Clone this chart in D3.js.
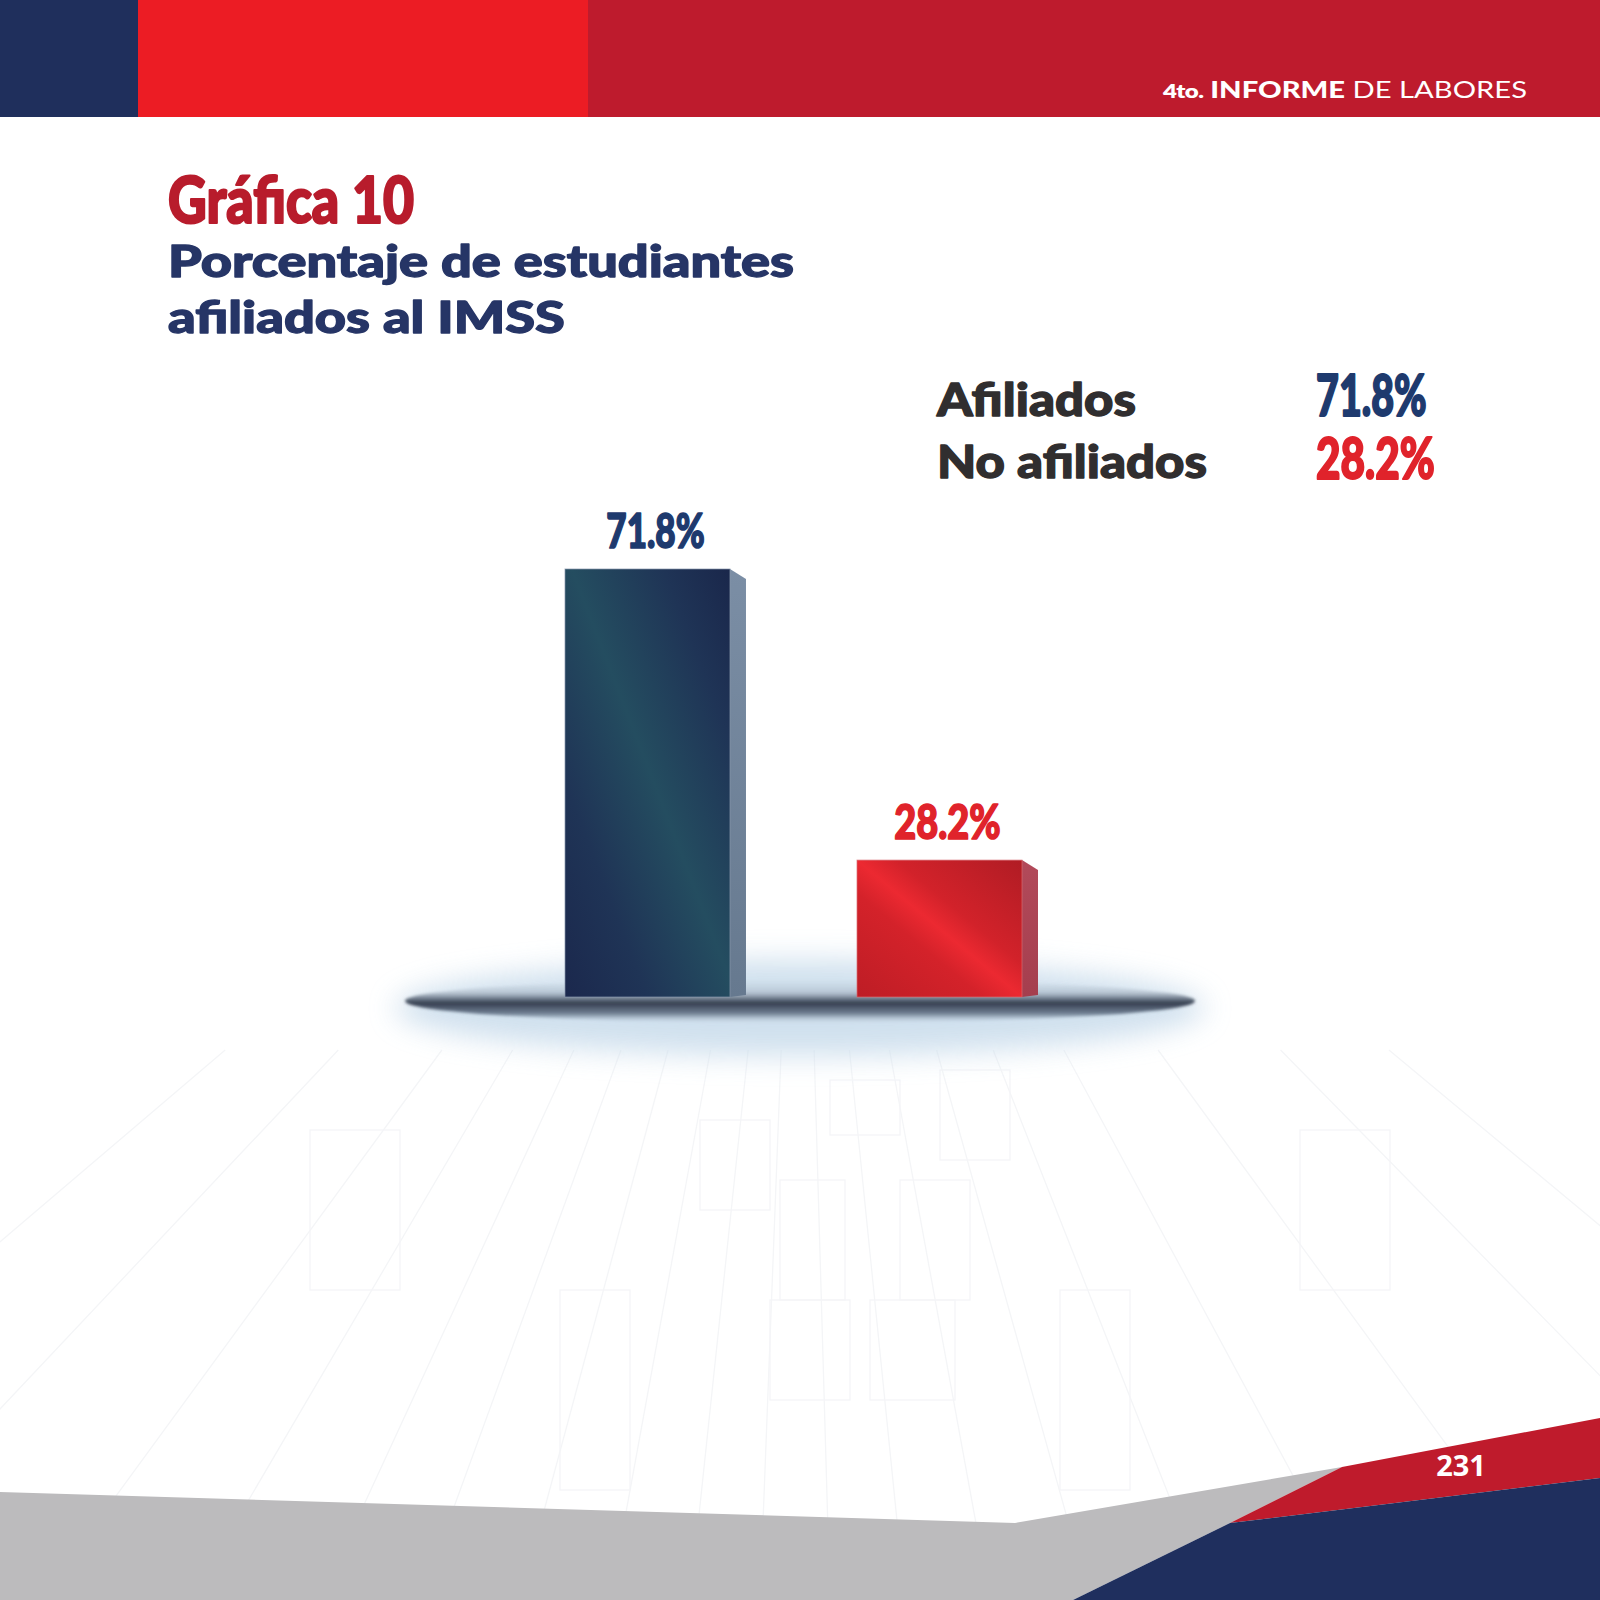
<!DOCTYPE html>
<html>
<head>
<meta charset="utf-8">
<script src="https://cdn.jsdelivr.net/npm/d3@7"></script>
<style>
  html, body { margin: 0; padding: 0; background: #ffffff; }
  svg { display: block; }
</style>
</head>
<body>
<div id="chart"></div>
<script>
// ---------- data ----------
const categories = ["Afiliados", "No afiliados"];
const values = [71.8, 28.2];
const valueLabels = ["71.8%", "28.2%"];
const legendLabels = ["Afiliados", "No afiliados"];
const titleText = "Gráfica 10";
const subtitleLines = ["Porcentaje de estudiantes", "afiliados al IMSS"];
const headerParts = ["4to.", "INFORME", "DE LABORES"];
const pageNumber = "231";

// ---------- setup ----------
const W = 1600, H = 1600;
const svg = d3.select("#chart").append("svg").attr("width", W).attr("height", H)
  .attr("viewBox", `0 0 ${W} ${H}`);
const defs = svg.append("defs");

const HEAVY = "Lato,'Open Sans','Noto Sans',sans-serif";

const colorFront = d3.scaleOrdinal().domain(categories).range(["blue", "red"]);
const labelColor = d3.scaleOrdinal().domain(categories).range(["#1e3a6e", "#e0232b"]);

function grad(id, stops, x1, y1, x2, y2) {
  const g = defs.append("linearGradient").attr("id", id)
    .attr("x1", x1).attr("y1", y1).attr("x2", x2).attr("y2", y2);
  stops.forEach(s => g.append("stop").attr("offset", s[0]).attr("stop-color", s[1])
    .attr("stop-opacity", s[2] === undefined ? 1 : s[2]));
}
grad("front-blue", [[0, "#1b284d"], [0.25, "#1f3456"], [0.52, "#244d60"], [0.8, "#1f3456"], [1, "#1a274b"]], 0, 1, 1, 0);
grad("front-red", [[0, "#bd1d25"], [0.38, "#d4222a"], [0.5, "#ec2931"], [0.62, "#d2222a"], [1, "#b01c24"]], 0, 1, 1, 0);
grad("side-blue", [[0, "#7b8ea5"], [1, "#66798f"]], 0, 0, 0, 1);
grad("side-red", [[0, "#b24a5a"], [1, "#a53e4e"]], 0, 0, 0, 1);
grad("shadow-g", [[0, "#b8c6d4", 0.0], [0.3, "#9aa6b5", 0.45], [0.45, "#5e6a7b", 0.9], [0.55, "#333d4e", 1], [0.78, "#56657a", 0.8], [1, "#c7d7e6", 0.15]], 0, 0, 0, 1);

const blur = defs.append("filter").attr("id", "glow").attr("x", "-30%").attr("y", "-100%")
  .attr("width", "160%").attr("height", "300%");
blur.append("feGaussianBlur").attr("stdDeviation", 14);
const blur2 = defs.append("filter").attr("id", "soft").attr("x", "-10%").attr("y", "-100%")
  .attr("width", "120%").attr("height", "300%");
blur2.append("feGaussianBlur").attr("stdDeviation", 1.6);

// text fitting helper: stretch/compress to a target width
function fit(sel, width) {
  sel.attr("textLength", width).attr("lengthAdjust", "spacingAndGlyphs");
}
// heavy condensed look: Lato heavy, thickened with a stroke, compressed horizontally
function condensed(sel, size, color) {
  sel.style("font-family", HEAVY).style("font-weight", 900).style("font-size", size + "px")
    .attr("fill", color).attr("stroke", color).attr("stroke-width", size * 0.035)
    .attr("stroke-linejoin", "round");
}

// ---------- background perspective grid (decorative, very faint) ----------
const gridG = svg.append("g").attr("stroke", "#f4f5f7").attr("stroke-width", 1.3).attr("fill", "none");
const vp = [800, 560];
const gridBottoms = [-420, -180, 40, 190, 320, 420, 520, 610, 690, 760, 830, 905, 990, 1090, 1210, 1360, 1560, 1820, 2050];
gridBottoms.forEach(bx => {
  const t0 = (1050 - vp[1]) / (1600 - vp[1]);
  gridG.append("line")
    .attr("x1", vp[0] + (bx - vp[0]) * t0).attr("y1", 1050)
    .attr("x2", bx).attr("y2", 1600);
});
const gridRects = [[700, 1120, 70, 90], [830, 1080, 70, 55], [940, 1070, 70, 90], [780, 1180, 65, 120], [900, 1180, 70, 120],
  [770, 1300, 80, 100], [870, 1300, 85, 100], [310, 1130, 90, 160], [1300, 1130, 90, 160], [560, 1290, 70, 200], [1060, 1290, 70, 200]];
gridRects.forEach(r => gridG.append("rect").attr("x", r[0]).attr("y", r[1]).attr("width", r[2]).attr("height", r[3]));

// ---------- header ----------
svg.append("rect").attr("x", 0).attr("y", 0).attr("width", W).attr("height", 117).attr("fill", "#be1b2d");
svg.append("rect").attr("x", 138).attr("y", 0).attr("width", 450).attr("height", 117).attr("fill", "#ec1c24");
svg.append("rect").attr("x", 0).attr("y", 0).attr("width", 138).attr("height", 117).attr("fill", "#1f2f5c");
const ht = svg.append("text").attr("x", 1527).attr("y", 98).attr("text-anchor", "end")
  .attr("fill", "#ffffff").style("font-family", HEAVY).style("font-size", "23px");
ht.append("tspan").text(headerParts[0]).style("font-weight", 800).style("font-size", "19px").attr("letter-spacing", "-0.5");
ht.append("tspan").text(" " + headerParts[1]).style("font-weight", 900);
ht.append("tspan").text(" " + headerParts[2]).style("font-weight", 400);
fit(ht, 364);

// ---------- titles ----------
const t1 = svg.append("text").attr("x", 168).attr("y", 223).text(titleText);
condensed(t1, 64, "#b81c2c");
fit(t1, 246);

const subG = svg.append("g").attr("fill", "#263566").attr("stroke", "#263566").attr("stroke-width", 1.3)
  .attr("stroke-linejoin", "round")
  .style("font-family", HEAVY).style("font-weight", 900).style("font-size", "43px");
const subs = subG.selectAll("text").data(subtitleLines).join("text")
  .attr("x", 168).attr("y", (d, i) => 277 + i * 56).text(d => d);
const nat0 = subs.nodes()[0].getComputedTextLength();
const kSub = 626 / nat0;
subs.each(function () { fit(d3.select(this), this.getComputedTextLength() * kSub); });

// ---------- legend ----------
const legG = svg.append("g");
const legLab = legG.selectAll("text.lab").data(legendLabels).join("text").attr("class", "lab")
  .attr("x", 937).attr("y", (d, i) => 416 + i * 62).text(d => d)
  .attr("fill", "#302e2f").attr("stroke", "#302e2f").attr("stroke-width", 1.3).attr("stroke-linejoin", "round")
  .style("font-family", HEAVY).style("font-weight", 900).style("font-size", "45px");
const kLeg = 270 / legLab.nodes()[1].getComputedTextLength();
legLab.each(function () { fit(d3.select(this), this.getComputedTextLength() * kLeg); });

const legVal = legG.selectAll("text.val").data(valueLabels).join("text").attr("class", "val")
  .attr("x", 1316).attr("y", (d, i) => 416 + i * 63).text(d => d);
legVal.each(function (d, i) {
  const s = d3.select(this);
  condensed(s, 58, labelColor(categories[i]));
  fit(s, this.getComputedTextLength() * (i ? 0.73 : 0.68));
});

// ---------- chart ----------
const x = d3.scaleBand().domain(categories).range([565, 1022]).paddingInner(0.435).paddingOuter(0);
const y = d3.scaleLinear().domain([7.7, 71.8]).range([997, 569]);
const base = y.range()[0];
const depth = 16, slant = 10;
const bw = x.bandwidth();

// floor glow + shadow
svg.append("ellipse").attr("cx", 800).attr("cy", 1008).attr("rx", 405).attr("ry", 48)
  .attr("fill", "#c8dbeb").attr("opacity", 0.85).attr("filter", "url(#glow)");
svg.append("ellipse").attr("cx", 800).attr("cy", 1001).attr("rx", 395).attr("ry", 22)
  .attr("fill", "url(#shadow-g)").attr("filter", "url(#soft)");

const data = categories.map((c, i) => ({ c, v: values[i], label: valueLabels[i] }));
const bars = svg.append("g").selectAll("g").data(data).join("g");

bars.append("path")
  .attr("d", d => {
    const x1 = x(d.c) + bw, top = y(d.v);
    return `M${x1},${top} L${x1 + depth},${top + slant} L${x1 + depth},${base - 2} L${x1},${base} Z`;
  })
  .attr("fill", d => `url(#side-${colorFront(d.c)})`);

bars.append("rect")
  .attr("x", d => x(d.c)).attr("y", d => y(d.v))
  .attr("width", bw).attr("height", d => base - y(d.v))
  .attr("fill", d => `url(#front-${colorFront(d.c)})`)
  .attr("stroke", d => colorFront(d.c) === "blue" ? "#8796ab" : "#d96a70")
  .attr("stroke-width", 1).attr("stroke-opacity", 0.7);

const barLab = bars.append("text")
  .attr("x", d => x(d.c) + (bw + depth) / 2)
  .attr("y", d => y(d.v) - 21)
  .attr("text-anchor", "middle")
  .text(d => d.label);
barLab.each(function (d, i) {
  const s = d3.select(this);
  condensed(s, 48, labelColor(d.c));
  fit(s, this.getComputedTextLength() * (i ? 0.79 : 0.73));
});

// ---------- footer ----------
const footer = svg.append("g");
footer.append("path").attr("d", "M0,1492 L1015,1523 L1342,1467 L1230,1523 L1073,1600 L0,1600 Z").attr("fill", "#bcbbbd");
footer.append("path").attr("d", "M1342,1467 L1600,1418 L1600,1478 L1230,1523 Z").attr("fill", "#bf1b2c");
footer.append("path").attr("d", "M1230,1523 L1600,1478 L1600,1600 L1073,1600 Z").attr("fill", "#1f2f5e");
footer.append("text").attr("x", 1461).attr("y", 1476).attr("text-anchor", "middle").text(pageNumber)
  .attr("fill", "#ffffff").style("font-family", "'Open Sans',sans-serif").style("font-weight", 700).style("font-size", "29px");
</script>
</body>
</html>
